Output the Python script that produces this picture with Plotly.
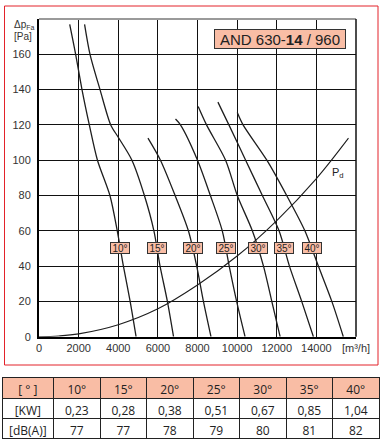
import numpy as np
import plotly.graph_objects as go

# ---------------- data ----------------
angles = ["10°", "15°", "20°", "25°", "30°", "35°", "40°"]

q_10 = [1550, 1850, 2170, 2540, 2950, 3580, 3950, 4260, 4600, 4900]
p_10 = [177, 160, 140, 120, 100, 80, 60, 40, 20, 0]

q_15 = [2300, 2575, 3080, 3620, 4000, 4690, 5320, 5800, 6110, 6480, 6790]
p_15 = [177, 160, 140, 120, 113, 100, 80, 60, 40, 20, 0]

q_20 = [5500, 6130, 6870, 7540, 7960, 8300, 8680]
p_20 = [112.5, 100, 80, 60, 40, 20, 0]

q_25 = [6890, 7140, 8000, 8650, 9250, 9600, 9975, 10400]
p_25 = [123.3, 120, 100, 80, 60, 40, 20, 0]

q_30 = [8035, 8456, 9418, 10008, 10768, 11330, 11750, 12170]
p_30 = [130.4, 120, 100, 80, 60, 40, 20, 0]

q_35 = [9030, 9585, 10430, 11274, 12116, 12640, 13260, 13850]
p_35 = [132.9, 120, 100, 80, 60, 40, 20, 0]

q_40 = [10008, 10300, 11500, 12500, 13420, 14100, 14780, 15360]
p_40 = [127, 120, 100, 80, 60, 40, 20, 0]

q_pd = [0, 1000, 2000, 4000, 6000, 8000, 10000, 12000, 14000, 15620]
p_pd = [0, 0.4, 1.6, 6.8, 15.8, 29.3, 45.7, 65.8, 89.6, 112.5]

x_ticks = [0, 2000, 4000, 6000, 8000, 10000, 12000, 14000, 16000]
x_ticktext = ["0", "2000", "4000", "6000", "8000", "10000", "12000", "14000", "[m³/h]"]
y_ticks = [0, 20, 40, 60, 80, 100, 120, 140, 160]

table_header = ["[ ° ]"] + angles
row_labels = ["[KW]", "[dB(A)]"]
power_kw = ["0,23", "0,28", "0,38", "0,51", "0,67", "0,85", "1,04"]
noise_db = [77, 77, 78, 79, 80, 81, 82]

title_text = "AND 630-<b>14</b> / 960"

# ---------------- figure ----------------
W, H = 380, 442
curves = [(q_10, p_10), (q_15, p_15), (q_20, p_20), (q_25, p_25),
          (q_30, p_30), (q_35, p_35), (q_40, p_40)]

fig = go.Figure()
LINE = "#1e1e1e"
SALMON = "#f9bda5"
FONT = "Liberation Sans, Arial, sans-serif"

for q, p in curves:
    fig.add_trace(go.Scatter(x=q, y=p, mode="lines",
                             line=dict(color=LINE, width=1.3, shape="spline", smoothing=0.8),
                             hoverinfo="skip", showlegend=False))

fig.add_trace(go.Scatter(x=q_pd, y=p_pd, mode="lines",
                         line=dict(color=LINE, width=1.1, shape="spline", smoothing=1.0),
                         hoverinfo="skip", showlegend=False))

# angle labels placed on the curves at 50 Pa
for name, (q, p) in zip(angles, curves):
    xq = float(np.interp(50, p[::-1], q[::-1]))
    fig.add_annotation(x=xq, y=50, xref="x", yref="y", text=name, showarrow=False,
                       font=dict(family=FONT, size=10, color="#222"),
                       bgcolor=SALMON, bordercolor="#333", borderwidth=1,
                       borderpad=0, width=18, height=10)

# Pd label
fig.add_annotation(x=15070, y=93, xref="x", yref="y", text="P<sub>d</sub>",
                   showarrow=False, font=dict(family=FONT, size=11, color="#222"))

# title box
fig.add_annotation(x=12150, y=168.6, xref="x", yref="y", text=title_text,
                   showarrow=False, font=dict(family=FONT, size=15, color="#222"),
                   bgcolor=SALMON, bordercolor="#333", borderwidth=1,
                   borderpad=0, width=130, height=18)

# y axis title
fig.add_annotation(x=12 / W, y=1 - 17 / H, xref="paper", yref="paper",
                   text="Δp<sub>Fa</sub>", showarrow=False, xanchor="left", yanchor="top",
                   font=dict(family=FONT, size=10, color="#333"))
fig.add_annotation(x=12 / W, y=1 - 36 / H, xref="paper", yref="paper",
                   text="[Pa]", showarrow=False, xanchor="left", yanchor="middle",
                   font=dict(family=FONT, size=10, color="#333"))

# table
fig.add_trace(go.Table(
    domain=dict(x=[2 / W, 379 / W], y=[1 - 440 / H, 1 - 377 / H]),
    columnwidth=[51.6] + [46.5] * 7,
    header=dict(values=table_header, fill_color=SALMON, height=21,
                line=dict(color="#222", width=1), align="center",
                font=dict(family="Open Sans, sans-serif", size=12, color="#222")),
    cells=dict(values=[row_labels] + [[k, d] for k, d in zip(power_kw, noise_db)],
               fill_color="white", height=20,
               line=dict(color="#222", width=1), align="center",
               font=dict(family="Open Sans, sans-serif", size=12, color="#222")),
))

x0p, x1p = 39 / W, 356 / W
y0p, y1p = 1 - 336.7 / H, 1 - 19 / H

fig.update_layout(
    width=W, height=H,
    margin=dict(l=0, r=0, t=0, b=0, autoexpand=False),
    paper_bgcolor="white", plot_bgcolor="white",
    showlegend=False,
    xaxis=dict(domain=[x0p, x1p], range=[0, 16000], tickvals=x_ticks, ticktext=x_ticktext,
               automargin=False,
               showgrid=True, gridcolor="#111", gridwidth=1, zeroline=False,
               showline=True, linecolor="#000", linewidth=2, ticks="",
               tickfont=dict(family=FONT, size=11, color="#333"), fixedrange=True),
    yaxis=dict(domain=[y0p, y1p], range=[0, 180], tickvals=y_ticks,
               automargin=False,
               showgrid=True, gridcolor="#111", gridwidth=1, zeroline=False,
               showline=True, linecolor="#000", linewidth=2, ticks="",
               ticklabelstandoff=4,
               tickfont=dict(family=FONT, size=11, color="#333"), fixedrange=True),
    shapes=[
        dict(type="line", xref="paper", yref="paper", x0=x0p, x1=x1p, y0=y1p, y1=y1p,
             line=dict(color="#9a9a9a", width=2)),
        dict(type="line", xref="paper", yref="paper", x0=x1p, x1=x1p, y0=y0p, y1=y1p,
             line=dict(color="#111", width=1.5)),
        dict(type="rect", xref="paper", yref="paper", x0=4.5 / W, x1=378 / W,
             y0=1 - 365 / H, y1=1 - 6 / H, line=dict(color="#e3222a", width=1)),
    ],
)

fig.write_html("out.html", config={"displayModeBar": False},
               post_script="document.body.style.margin='0';document.body.style.overflow='hidden';")
